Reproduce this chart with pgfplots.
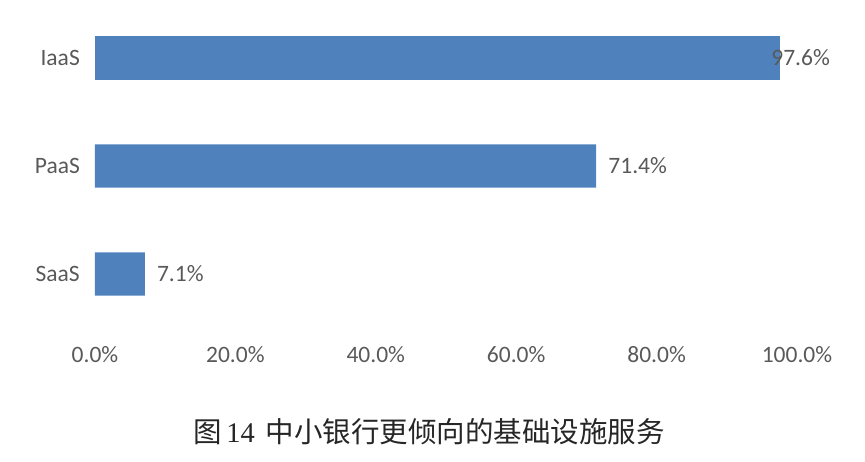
\documentclass[border=0pt]{standalone}
\usepackage{pgfplots}
\pgfplotsset{compat=1.18}
\usepackage{fontspec}
\setmainfont{Carlito}
\newfontfamily\cjk{Noto Sans CJK SC}
\newfontfamily\serifnum{Liberation Serif}
\definecolor{barblue}{HTML}{4F81BD}
\definecolor{txtgray}{HTML}{595959}

\begin{document}
\begin{tikzpicture}[x=1pt,y=1pt]
\useasboundingbox (0,0) rectangle (865,461);
\begin{axis}[
    at={(95pt,133pt)}, anchor=south west,
    scale only axis,
    width=702pt, height=324pt,
    xbar, bar width=43pt, bar shift=0pt,
    xmin=0, xmax=100,
    ymin=-0.5, ymax=2.5,
    axis line style={draw=none},
    /pgf/number format/assume math mode=true,
    xtick={0,20,40,60,80,100},
    xticklabels={0.0\%,20.0\%,40.0\%,60.0\%,80.0\%,100.0\%},
    ytick={0,1,2},
    yticklabels={SaaS,PaaS,IaaS},
    major tick length=0pt,
    tick style={draw=none},
    tick label style={font=\fontsize{23.5}{25}\selectfont, text=txtgray},
    xticklabel style={anchor=center, yshift=-27pt},
    yticklabel style={anchor=east, inner sep=0pt, xshift=-15pt},
    nodes near coords={\pgfmathprintnumber[fixed,fixed zerofill,precision=1,assume math mode=true]{\pgfplotspointmeta}\%},
    every node near coord/.append style={font=\fontsize{23.5}{25}\selectfont, text=txtgray, anchor=west, inner sep=0pt, xshift=12pt},
    clip=false,
]
\addplot[fill=barblue, draw=none] coordinates {(7.1,0) (71.4,1)};
\addplot[fill=barblue, draw=none,
    every node near coord/.append style={xshift=-21pt}] coordinates {(97.6,2)};
\end{axis}
\node[font=\fontsize{28.5}{30}\selectfont, text=black!85] at (429,29)
    {\cjk 图\,{\serifnum 14}\, 中小银行更倾向的基础设施服务};
\end{tikzpicture}
\end{document}
